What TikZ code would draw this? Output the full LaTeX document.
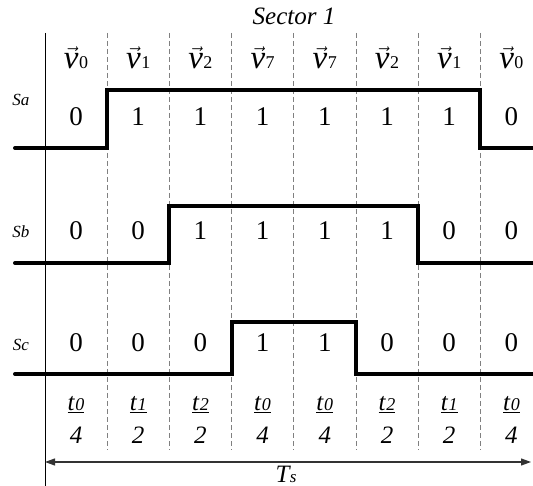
\documentclass[tikz,border=0pt]{standalone}
\usepackage{fontspec}
\setmainfont{Liberation Serif}
\usetikzlibrary{arrows.meta,positioning,calc}

% vector and time labels
\newcommand{\vecv}[1]{$\vec{\mathit{v}}$\kern0.5pt{\fontsize{18}{18}\selectfont#1}}
\newcommand{\tpart}[1]{\underline{\textit{t}\kern0.3pt{\fontsize{18}{18}\selectfont\textit{#1}}}}

\begin{document}
\begin{tikzpicture}[x=1pt,y=-1pt,
  signal/.style={line width=4pt,line cap=round,line join=miter},
  slot/.style={dashed,dash pattern=on 5pt off 3pt,gray,line width=0.8pt},
  veclab/.style={font=\fontsize{33}{34}\selectfont},
  bitval/.style={font=\fontsize{27}{28}\selectfont},
  rowlab/.style={font=\fontsize{17}{18}\selectfont\itshape},
  tlab/.style={font=\fontsize{25}{26}\selectfont}]
  \useasboundingbox (0,0) rectangle (533,486);
  \def\cw{62.2}
  % Titel
  \node[font=\fontsize{25}{26}\selectfont\itshape] (sector) at (294,16) {Sector 1};
  % Achse und Zeitschlitze
  \draw[line width=0.9pt] (45,33) -- (45,486);
  \foreach \i in {1,...,7}{\draw[slot] (45+\cw*\i,33) -- (45+\cw*\i,450);}
  % Spannungsvektoren
  \foreach \lab [count=\i from 0] in {0,1,2,7,7,2,1,0}
    \node[veclab] (v\i) at (76+\cw*\i,58) {\vecv{\lab}};
  % Schaltzustaende
  \node[rowlab] (sa) at (21,100) {Sa};
  \node[rowlab] (sb) at (21,232) {Sb};
  \node[rowlab] (sc) at (21,345) {Sc};
  \foreach \b [count=\i from 0] in {0,1,1,1,1,1,1,0}
    \node[bitval] (a\i) at (76+\cw*\i,117) {\b};
  \foreach \b [count=\i from 0] in {0,0,1,1,1,1,0,0}
    \node[bitval] (b\i) at (76+\cw*\i,231) {\b};
  \foreach \b [count=\i from 0] in {0,0,0,1,1,0,0,0}
    \node[bitval] (c\i) at (76+\cw*\i,343) {\b};
  % Pulsmuster
  \draw[signal] (15,148) -| (45+\cw,90) -| (45+\cw*7,148) -- (533,148);
  \draw[signal] (15,263) -| (45+\cw*2,206) -| (45+\cw*6,263) -- (533,263);
  \draw[signal] (15,374) -| (45+\cw*3,322) -| (45+\cw*5,374) -- (533,374);
  % Zeitanteile
  \foreach \t/\n [count=\i from 0] in {0/4,1/2,2/2,0/4,0/4,2/2,1/2,0/4}{
    \node[tlab] (t\i) at (76+\cw*\i,405) {\tpart{\t}};
    \node[tlab,font=\fontsize{25}{26}\selectfont\itshape] (n\i) at (76+\cw*\i,435) {\n};
  }
  % Periode
  \coordinate (ts0) at (45,462);
  \coordinate (ts1) at (531,462);
  \draw[{Triangle[length=10pt,width=7pt]}-{Triangle[length=10pt,width=7pt]},line width=1.1pt,black!80] (ts0) -- (ts1);
  \node[font=\fontsize{25}{26}\selectfont,anchor=base] (ts) at (286,482) {\textit{T}\kern-1pt{\fontsize{17}{17}\selectfont\textit{s}}};
\end{tikzpicture}
\end{document}
